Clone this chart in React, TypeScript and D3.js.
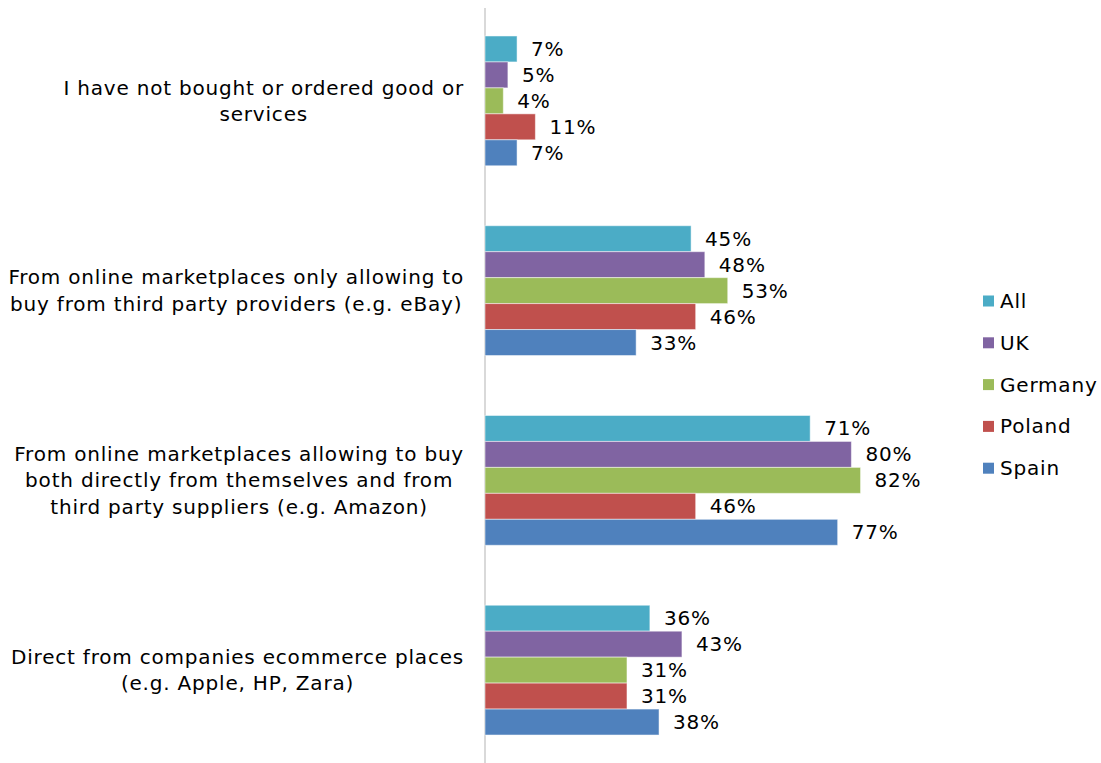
import React from "react";
import * as d3 from "d3";

const categories = [
  ["I have not bought or ordered good or", "services"],
  ["From online marketplaces only allowing to", "buy from third party providers (e.g. eBay)"],
  ["From online marketplaces allowing to buy", "both directly from themselves and from", "third party suppliers (e.g. Amazon)"],
  ["Direct from companies ecommerce places", "(e.g. Apple, HP, Zara)"],
];
const seriesNames = ["All", "UK", "Germany", "Poland", "Spain"];
const seriesColors = ["#4BACC6", "#8064A2", "#9BBB59", "#C0504D", "#4F81BD"];
const allValues = [7, 45, 71, 36];
const ukValues = [5, 48, 80, 43];
const germanyValues = [4, 53, 82, 31];
const polandValues = [11, 46, 46, 31];
const spainValues = [7, 33, 77, 38];
const seriesValues = [allValues, ukValues, germanyValues, polandValues, spainValues];

const W = 1101;
const H = 763;
const FONT = "'DejaVu Sans', Verdana, sans-serif";
const FS = 20;
const LS = 0.8;

let ctx: CanvasRenderingContext2D | null = null;
function measure(t: string): number {
  if (!ctx) {
    ctx = document.createElement("canvas").getContext("2d");
  }
  if (!ctx) return t.length * FS * 0.6;
  ctx.font = `${FS}px 'DejaVu Sans', Verdana, sans-serif`;
  return ctx.measureText(t).width + LS * t.length;
}

export default function App() {
  const x0 = 485;
  const x = d3.scaleLinear().domain([0, 100]).range([x0, x0 + 458]);
  const y = d3
    .scaleBand<number>()
    .domain(categories.map((_, i) => i))
    .range([6, 765])
    .paddingInner(0.316)
    .paddingOuter(0.158);
  const ys = d3
    .scaleBand<number>()
    .domain(seriesNames.map((_, i) => i))
    .range([0, y.bandwidth()]);
  const lh = 26.5;
  const labelRight = 464;
  return (
    <div style={{ position: "absolute", left: 0, top: 0 }}>
      <svg width={W} height={H} style={{ display: "block", background: "#fff" }}>
        <line x1={x0} x2={x0} y1={8} y2={H} stroke="#d9d9d9" strokeWidth={2} />
        {categories.map((lines, ci) => {
          const by = y(ci)!;
          const cy = by + y.bandwidth() / 2;
          const maxW = d3.max(lines, (l) => measure(l)) || 0;
          const cx = labelRight - maxW / 2;
          return (
            <g key={ci}>
              {seriesValues.map((vals, si) => {
                const v = vals[ci];
                const yy = by + ys(si)!;
                return (
                  <g key={si}>
                    <rect
                      x={x(0)}
                      y={yy}
                      width={x(v) - x(0)}
                      height={ys.bandwidth()}
                      fill={seriesColors[si]}
                      stroke="#ffffff"
                      strokeOpacity={0.5}
                      strokeWidth={1}
                    />
                    <text
                      x={x(v) + 14}
                      y={yy + ys.bandwidth() / 2}
                      dy="0.35em"
                      fontFamily={FONT}
                      fontSize={FS}
                      letterSpacing={LS}
                      fill="#000"
                    >
                      {v}%
                    </text>
                  </g>
                );
              })}
              {lines.map((ln, li) => (
                <text
                  key={li}
                  x={cx}
                  y={cy + (li - (lines.length - 1) / 2) * lh}
                  dy="0.35em"
                  textAnchor="middle"
                  fontFamily={FONT}
                  fontSize={FS}
                  letterSpacing={LS}
                  fill="#000"
                >
                  {ln}
                </text>
              ))}
            </g>
          );
        })}
        {seriesNames.map((s, i) => {
          const ly = 301 + i * 41.8;
          return (
            <g key={s}>
              <rect x={983} y={ly - 5.5} width={11} height={11} fill={seriesColors[i]} />
              <text x={1000} y={ly} dy="0.35em" fontFamily={FONT} fontSize={FS} letterSpacing={LS} fill="#000">
                {s}
              </text>
            </g>
          );
        })}
      </svg>
    </div>
  );
}
